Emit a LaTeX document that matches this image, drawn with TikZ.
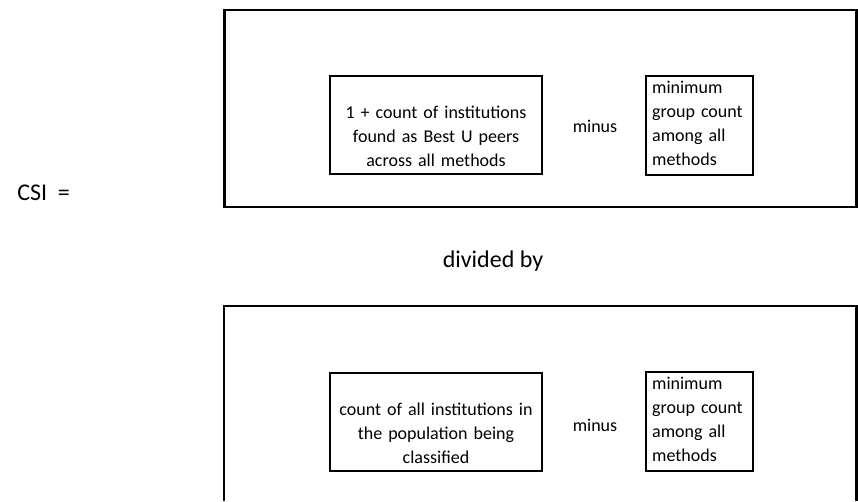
\documentclass[tikz,border=0pt]{standalone}
\usepackage{fontspec}
\setmainfont{Carlito}
\usepackage{tikz}
\usetikzlibrary{positioning}

\begin{document}
\begin{tikzpicture}[x=0.75pt, y=-0.75pt, font=\fontsize{13.5}{18}\selectfont]
\tikzset{
  frameBox/.style={draw, line width=2pt, inner sep=0pt},
  termBox/.style={draw, line width=1.5pt, inner sep=0pt, minimum width=159pt,
    text width=155pt, align=center, text height=32pt, text depth=41.5pt},
  minBox/.style={draw, line width=1.5pt, inner xsep=4.5pt, inner ysep=0pt,
    text width=71pt, align=left, text height=13pt, text depth=61pt},
  opWord/.style={inner sep=0pt, anchor=base},
  bigWord/.style={opWord, font=\fontsize{18}{22}\selectfont}
}
\useasboundingbox (0,0) rectangle (858,501);

% --- left hand side -------------------------------------------------------
\node[bigWord, anchor=base west] (csi) at (17,200) {CSI\ \ =};

% --- numerator ------------------------------------------------------------
\node[frameBox, minimum width=474pt, minimum height=147.75pt] (numFrame) at (540.2,108.5) {};
\node[termBox] (num) at (436,125) {1 + count of institutions\\found as Best U peers\\across all methods};
\node[opWord] (numMinus) at (595,132) {minus};
\node[minBox] (numMin) at (699.5,125.5) {minimum\\group count\\among all\\methods};

% --- divided by -----------------------------------------------------------
\node[bigWord] (div) at (493,267) {divided by};

% --- denominator (frame runs off the page) --------------------------------
\draw[line width=2pt] (224,501) |- (856.5,306) -- (856.5,501);
\node[termBox] (den) at (436,421.5) {count of all institutions in\\the population being\\classified};
\node[opWord] (denMinus) at (595,431) {minus};
\node[minBox] (denMin) at (699.5,421.5) {minimum\\group count\\among all\\methods};
\end{tikzpicture}
\end{document}
